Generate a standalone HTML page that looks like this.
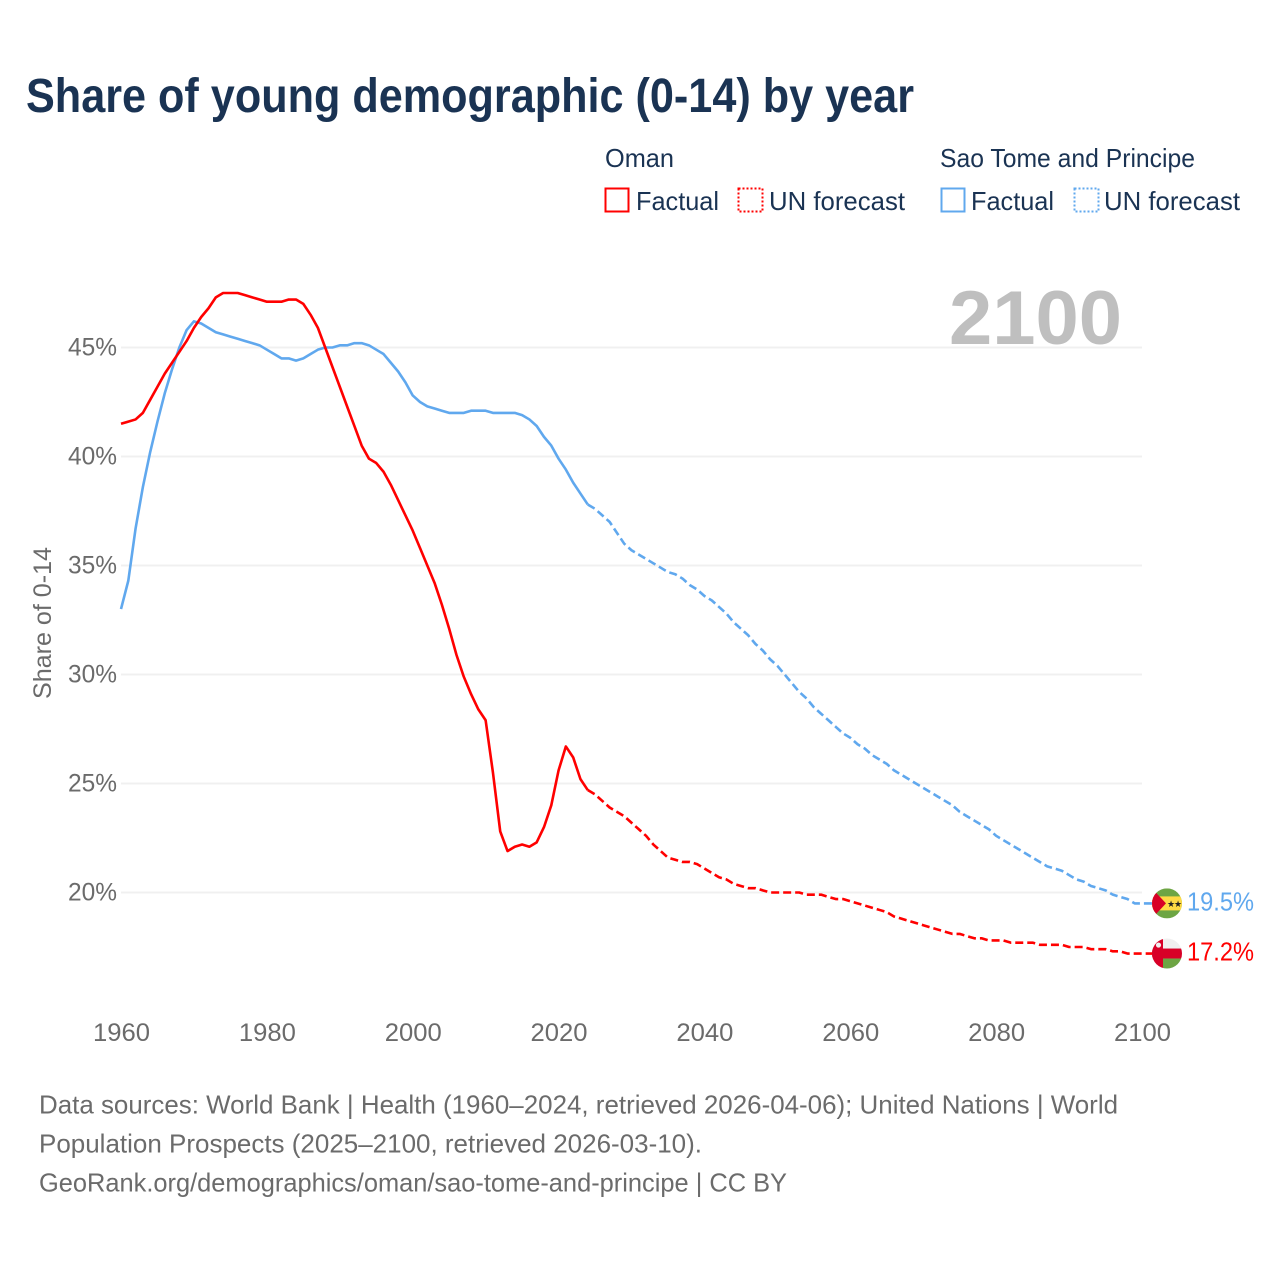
<!DOCTYPE html>
<html lang="en">
<head>
<meta charset="utf-8">
<title>Share of young demographic (0-14) by year</title>
<style>
html,body{margin:0;padding:0;background:#fff;width:1280px;height:1280px;overflow:hidden}
svg{display:block}
text{font-family:"Liberation Sans",sans-serif}
</style>
</head>
<body>
<svg id="chart" xmlns="http://www.w3.org/2000/svg" width="1280" height="1280" viewBox="0 0 1280 1280">
  <defs>
    <clipPath id="flag-clip"><circle cx="0" cy="0" r="15"/></clipPath>
  </defs>
  <rect width="1280" height="1280" fill="#fff"/>

  <text x="26" y="112" font-size="48" font-weight="700" fill="#1a3353" textLength="888" lengthAdjust="spacingAndGlyphs">Share of young demographic (0-14) by year</text>

  <g font-size="26" fill="#1a3353">
    <text x="605" y="167" textLength="69" lengthAdjust="spacingAndGlyphs">Oman</text>
    <rect x="605.5" y="188.5" width="23" height="23" fill="none" stroke="#ff0000" stroke-width="2"/>
    <text x="636" y="210" textLength="83" lengthAdjust="spacingAndGlyphs">Factual</text>
    <rect x="738.5" y="188.5" width="24" height="23" fill="none" stroke="#ff0000" stroke-width="2" stroke-dasharray="2 2"/>
    <text x="769" y="210" textLength="136" lengthAdjust="spacingAndGlyphs">UN forecast</text>
    <text x="940" y="167" textLength="255" lengthAdjust="spacingAndGlyphs">Sao Tome and Principe</text>
    <rect x="941.5" y="188.5" width="23" height="23" fill="none" stroke="#60a8ee" stroke-width="2"/>
    <text x="971" y="210" textLength="83" lengthAdjust="spacingAndGlyphs">Factual</text>
    <rect x="1074.5" y="188.5" width="24" height="23" fill="none" stroke="#60a8ee" stroke-width="2" stroke-dasharray="2 2"/>
    <text x="1104" y="210" textLength="136" lengthAdjust="spacingAndGlyphs">UN forecast</text>
  </g>

  <g id="grid"></g>
  <text x="949" y="344" font-size="76" font-weight="700" fill="#bfbfbf" textLength="173" lengthAdjust="spacingAndGlyphs">2100</text>
  <g id="y-axis"></g>
  <g id="x-axis"></g>
  <text transform="translate(51,623) rotate(-90)" text-anchor="middle" font-size="25" fill="#6b6b6b" textLength="152" lengthAdjust="spacingAndGlyphs">Share of 0-14</text>
  <g id="series"></g>

  <g id="flag-sao-tome">
    <g clip-path="url(#flag-clip)">
      <rect x="-15" y="-15" width="30" height="30" fill="#6da544"/>
      <rect x="-15" y="-7" width="30" height="14" fill="#ffda44"/>
      <path d="M-15 -15 L-1 0 L-15 15 Z" fill="#d80027"/>
      <text x="4" y="3.5" font-size="9" fill="#222" text-anchor="middle">★</text>
      <text x="11" y="3.5" font-size="9" fill="#222" text-anchor="middle">★</text>
    </g>
  </g>
  <g id="flag-oman">
    <g clip-path="url(#flag-clip)">
      <rect x="-15" y="-15" width="30" height="30" fill="#f0f0f0"/>
      <rect x="-15" y="-5" width="30" height="10" fill="#d80027"/>
      <rect x="-4" y="5" width="19" height="10" fill="#6da544"/>
      <rect x="-15" y="-15" width="11" height="30" fill="#d80027"/>
      <circle cx="-8.5" cy="-8.5" r="2.6" fill="#f0f0f0"/>
    </g>
  </g>
  <text id="label-sao-tome" x="1187" font-size="26" fill="#60a8ee" textLength="67" lengthAdjust="spacingAndGlyphs"></text>
  <text id="label-oman" x="1187" font-size="26" fill="#ff0000" textLength="67" lengthAdjust="spacingAndGlyphs"></text>

  <g font-size="26" fill="#6b6b6b">
    <text x="39" y="1113.5" textLength="1079" lengthAdjust="spacingAndGlyphs">Data sources: World Bank | Health (1960–2024, retrieved 2026-04-06); United Nations | World</text>
    <text x="39" y="1152.5" textLength="663" lengthAdjust="spacingAndGlyphs">Population Prospects (2025–2100, retrieved 2026-03-10).</text>
    <text x="39" y="1191.5" textLength="748" lengthAdjust="spacingAndGlyphs">GeoRank.org/demographics/oman/sao-tome-and-principe | CC BY</text>
  </g>
</svg>
<script>
const xTicks = [1960, 1980, 2000, 2020, 2040, 2060, 2080, 2100];
const yTicks = [20, 25, 30, 35, 40, 45];
const factualStart = 1960;
const forecastStart = 2024;

const omanFactual = [41.5,41.6,41.7,42.0,42.6,43.2,43.8,44.3,44.8,45.3,45.9,46.4,46.8,47.3,47.5,47.5,47.5,47.4,47.3,47.2,
  47.1,47.1,47.1,47.2,47.2,47.0,46.5,45.9,45.0,44.1,43.2,42.3,41.4,40.5,39.9,39.7,39.3,38.7,38.0,37.3,
  36.6,35.8,35.0,34.2,33.2,32.1,30.9,29.9,29.1,28.4,27.9,25.5,22.8,21.9,22.1,22.2,22.1,22.3,23.0,24.0,
  25.6,26.7,26.2,25.2,24.7];
const omanForecast = [24.7,24.5,24.2,23.9,23.7,23.5,23.2,22.9,22.6,22.2,21.9,21.6,21.5,21.4,21.4,21.3,21.1,20.9,20.7,20.6,
  20.4,20.3,20.2,20.2,20.1,20.0,20.0,20.0,20.0,20.0,19.9,19.9,19.9,19.8,19.7,19.7,19.6,19.5,19.4,19.3,
  19.2,19.1,18.9,18.8,18.7,18.6,18.5,18.4,18.3,18.2,18.1,18.1,18.0,17.9,17.9,17.8,17.8,17.8,17.7,17.7,
  17.7,17.7,17.6,17.6,17.6,17.6,17.5,17.5,17.5,17.4,17.4,17.4,17.3,17.3,17.2,17.2,17.2];
const saoTomeFactual = [33.0,34.3,36.7,38.6,40.2,41.6,42.9,44.0,45.0,45.8,46.2,46.1,45.9,45.7,45.6,45.5,45.4,45.3,45.2,45.1,
  44.9,44.7,44.5,44.5,44.4,44.5,44.7,44.9,45.0,45.0,45.1,45.1,45.2,45.2,45.1,44.9,44.7,44.3,43.9,43.4,
  42.8,42.5,42.3,42.2,42.1,42.0,42.0,42.0,42.1,42.1,42.1,42.0,42.0,42.0,42.0,41.9,41.7,41.4,40.9,40.5,
  39.9,39.4,38.8,38.3,37.8];
const saoTomeForecast = [37.8,37.6,37.3,37.0,36.5,36.0,35.7,35.5,35.3,35.1,34.9,34.7,34.6,34.4,34.1,33.9,33.6,33.4,33.1,32.8,
  32.4,32.1,31.8,31.4,31.1,30.7,30.4,30.0,29.6,29.2,28.9,28.5,28.2,27.9,27.6,27.3,27.1,26.8,26.6,26.3,
  26.1,25.9,25.6,25.4,25.2,25.0,24.8,24.6,24.4,24.2,24.0,23.7,23.5,23.3,23.1,22.9,22.6,22.4,22.2,22.0,
  21.8,21.6,21.4,21.2,21.1,21.0,20.8,20.6,20.5,20.3,20.2,20.1,19.9,19.8,19.7,19.5,19.5];

const SVG_NS = 'http://www.w3.org/2000/svg';
const RED = '#ff0000';
const BLUE = '#60a8ee';
const FLAG_X = 1167;
function xScale(year) { return 121 + (year - 1960) * (1142 - 121) / 140; }
function yScale(value) { return 892.5 - (value - 20) * 21.8; }
function linePath(values, startYear) {
  return values.map(function (v, i) {
    return (i ? 'L' : 'M') + xScale(startYear + i).toFixed(2) + ' ' + yScale(v).toFixed(2);
  }).join(' ');
}

const grid = document.getElementById('grid');
const yAxis = document.getElementById('y-axis');
const xAxis = document.getElementById('x-axis');
const seriesGroup = document.getElementById('series');

yTicks.forEach(function (t) {
  const line = document.createElementNS(SVG_NS, 'line');
  
  
  line.setAttribute('x1', xScale(1960));
  line.setAttribute('x2', xScale(2100));
  line.setAttribute('y1', yScale(t));
  line.setAttribute('y2', yScale(t));
  line.setAttribute('stroke', '#f0f0f0');
  line.setAttribute('stroke-width', '2');
  grid.appendChild(line);

  const label = document.createElementNS(SVG_NS, 'text');
  
  
  label.setAttribute('x', 117);
  label.setAttribute('y', yScale(t) + 8);
  label.setAttribute('text-anchor', 'end');
  label.setAttribute('font-size', '25');
  label.setAttribute('fill', '#6b6b6b');
  label.setAttribute('textLength', '49');
  label.setAttribute('lengthAdjust', 'spacingAndGlyphs');
  label.textContent = t + '%';
  yAxis.appendChild(label);
});

xTicks.forEach(function (t) {
  const label = document.createElementNS(SVG_NS, 'text');
  
  
  label.setAttribute('x', xScale(t) + 0.5);
  label.setAttribute('y', 1041);
  label.setAttribute('text-anchor', 'middle');
  label.setAttribute('font-size', '25');
  label.setAttribute('fill', '#6b6b6b');
  label.setAttribute('textLength', '57');
  label.setAttribute('lengthAdjust', 'spacingAndGlyphs');
  label.textContent = t;
  xAxis.appendChild(label);
});

function addLine(d, color, dashed, name) {
  const path = document.createElementNS(SVG_NS, 'path');
  
  
  path.setAttribute('d', d);
  path.setAttribute('fill', 'none');
  path.setAttribute('stroke', color);
  path.setAttribute('stroke-width', '2.6');
  path.setAttribute('stroke-linejoin', 'round');
  if (dashed) path.setAttribute('stroke-dasharray', '8 4');
  seriesGroup.appendChild(path);
}
function connector(values) {
  const last = values[values.length - 1];
  return ' L' + FLAG_X + ' ' + yScale(last).toFixed(2);
}

addLine(linePath(saoTomeFactual, factualStart), BLUE, false, 'sao-tome-factual-line');
addLine(linePath(saoTomeForecast, forecastStart) + connector(saoTomeForecast), BLUE, true, 'sao-tome-forecast-line');
addLine(linePath(omanFactual, factualStart), RED, false, 'oman-factual-line');
addLine(linePath(omanForecast, forecastStart) + connector(omanForecast), RED, true, 'oman-forecast-line');

function placeEnd(flagId, labelId, values) {
  const last = values[values.length - 1];
  const y = yScale(last);
  document.getElementById(flagId).setAttribute('transform', 'translate(' + FLAG_X + ',' + y.toFixed(2) + ')');
  const label = document.getElementById(labelId);
  label.setAttribute('y', (y + 7).toFixed(2));
  label.textContent = last.toFixed(1) + '%';
}
placeEnd('flag-sao-tome', 'label-sao-tome', saoTomeForecast);
placeEnd('flag-oman', 'label-oman', omanForecast);
</script>
</body>
</html>
